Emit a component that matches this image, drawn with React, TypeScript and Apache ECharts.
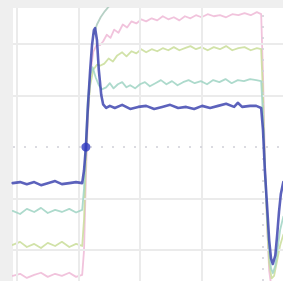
import React, { useEffect, useRef } from "react";
import * as echarts from "echarts";

// Oscilloscope capture, units = screen divisions (time, volts)
const gridX = [-4, -3, -2, -1];
const gridY = [-2, -1, 1, 2];
const centerX = [0];
const centerY = [0];

const blueTrace: [number, number][] = [
  [-4.07, -0.7], [-3.95, -0.68], [-3.84, -0.72], [-3.72, -0.68], [-3.61, -0.74], [-3.5, -0.7], [-3.38, -0.66],
  [-3.27, -0.72], [-3.15, -0.7], [-3.04, -0.68], [-2.94, -0.7],
  [-2.91, -0.45], [-2.88, 0.0], [-2.85, 0.72], [-2.81, 1.5], [-2.78, 1.98], [-2.75, 2.27], [-2.73, 2.31],
  [-2.7, 2.08], [-2.67, 1.5], [-2.63, 1.01], [-2.6, 0.83], [-2.55, 0.76], [-2.49, 0.8],
  [-2.41, 0.76], [-2.29, 0.82], [-2.16, 0.74], [-2.03, 0.78], [-1.9, 0.8], [-1.77, 0.74], [-1.64, 0.78],
  [-1.51, 0.82], [-1.38, 0.76], [-1.25, 0.78], [-1.12, 0.74], [-0.99, 0.8], [-0.86, 0.76], [-0.73, 0.8],
  [-0.6, 0.84], [-0.47, 0.78], [-0.41, 0.86], [-0.34, 0.78], [-0.21, 0.8], [-0.11, 0.8], [-0.03, 0.76],
  [0.0, 0.33], [0.03, -0.45], [0.07, -1.22], [0.1, -1.81], [0.13, -2.16], [0.16, -2.27], [0.2, -2.1],
  [0.23, -1.71], [0.26, -1.26], [0.29, -0.91], [0.33, -0.68],
];

const tealTrace: [number, number][] = [
  [-4.07, -1.24], [-3.95, -1.3], [-3.84, -1.2], [-3.72, -1.26], [-3.61, -1.18], [-3.5, -1.28], [-3.38, -1.22],
  [-3.27, -1.26], [-3.15, -1.2], [-3.04, -1.27], [-2.94, -1.22],
  [-2.91, -0.8], [-2.88, 0.1], [-2.85, 0.9], [-2.81, 1.4], [-2.77, 1.55], [-2.72, 1.35], [-2.67, 1.2], [-2.62, 1.12],
  [-2.55, 1.16], [-2.49, 1.24], [-2.43, 1.14], [-2.36, 1.22], [-2.29, 1.26], [-2.22, 1.16], [-2.16, 1.2],
  [-2.08, 1.14], [-2.0, 1.22], [-1.92, 1.26], [-1.84, 1.18], [-1.75, 1.24], [-1.66, 1.3], [-1.57, 1.22],
  [-1.48, 1.28], [-1.39, 1.2], [-1.3, 1.26], [-1.21, 1.3], [-1.11, 1.24], [-1.01, 1.28], [-0.91, 1.22],
  [-0.81, 1.3], [-0.71, 1.26], [-0.61, 1.32], [-0.51, 1.24], [-0.41, 1.3], [-0.31, 1.28], [-0.21, 1.32],
  [-0.11, 1.3], [-0.03, 1.28],
  [0.0, 0.6], [0.03, -0.4], [0.07, -1.4], [0.1, -2.0], [0.13, -2.35], [0.16, -2.45], [0.2, -2.3],
  [0.24, -1.95], [0.28, -1.6], [0.33, -1.35],
];

const greenTrace: [number, number][] = [
  [-4.07, -1.9], [-3.95, -1.84], [-3.84, -1.94], [-3.72, -1.88], [-3.61, -1.96], [-3.5, -1.86], [-3.38, -1.92],
  [-3.27, -1.84], [-3.15, -1.94], [-3.04, -1.88], [-2.94, -1.92],
  [-2.91, -1.4], [-2.88, -0.3], [-2.85, 0.6], [-2.81, 1.2], [-2.76, 1.5], [-2.7, 1.6], [-2.65, 1.58],
  [-2.58, 1.62], [-2.51, 1.72], [-2.44, 1.66], [-2.37, 1.78], [-2.29, 1.84], [-2.22, 1.76], [-2.14, 1.86],
  [-2.06, 1.82], [-1.98, 1.9], [-1.9, 1.84], [-1.81, 1.9], [-1.72, 1.86], [-1.63, 1.92], [-1.54, 1.88],
  [-1.45, 1.94], [-1.36, 1.88], [-1.27, 1.92], [-1.18, 1.96], [-1.09, 1.9], [-1.0, 1.94], [-0.9, 1.88],
  [-0.8, 1.94], [-0.7, 1.9], [-0.6, 1.96], [-0.5, 1.88], [-0.4, 1.92], [-0.3, 1.94], [-0.2, 1.88],
  [-0.1, 1.92], [-0.03, 1.9],
  [0.0, 1.0], [0.03, -0.4], [0.07, -1.6], [0.1, -2.25], [0.14, -2.55], [0.18, -2.5], [0.23, -2.2],
  [0.28, -1.9], [0.33, -1.7],
];

const pinkTrace: [number, number][] = [
  [-4.07, -2.5], [-3.95, -2.46], [-3.84, -2.54], [-3.72, -2.48], [-3.61, -2.44], [-3.5, -2.52], [-3.38, -2.46],
  [-3.27, -2.5], [-3.15, -2.44], [-3.04, -2.52], [-2.94, -2.48],
  [-2.91, -2.0], [-2.88, -0.6], [-2.85, 0.5], [-2.81, 1.4], [-2.76, 1.85], [-2.7, 2.0], [-2.65, 1.98],
  [-2.6, 2.05], [-2.54, 2.18], [-2.48, 2.12], [-2.42, 2.28], [-2.35, 2.22], [-2.28, 2.38], [-2.21, 2.32],
  [-2.14, 2.44], [-2.06, 2.4], [-1.98, 2.48], [-1.9, 2.44], [-1.81, 2.5], [-1.72, 2.46], [-1.63, 2.54],
  [-1.54, 2.48], [-1.45, 2.52], [-1.36, 2.46], [-1.27, 2.54], [-1.18, 2.5], [-1.09, 2.56], [-1.0, 2.52],
  [-0.9, 2.58], [-0.8, 2.54], [-0.7, 2.56], [-0.6, 2.52], [-0.5, 2.58], [-0.4, 2.56], [-0.3, 2.6],
  [-0.2, 2.56], [-0.1, 2.62], [-0.03, 2.58],
  [0.0, 1.4], [0.03, -0.2], [0.07, -1.6], [0.1, -2.4], [0.14, -2.75], [0.2, -2.8],
];

const overshootTrace: [number, number][] = [
  [-2.75, 2.2], [-2.7, 2.38], [-2.64, 2.52], [-2.57, 2.64], [-2.5, 2.74], [-2.44, 2.82],
];

const triggerPoint: [number, number][] = [[-2.88, 0.0]];

const X_MIN = -4.065;
const X_MAX = 0.325;
const Y_MIN = -2.6;
const Y_MAX = 2.7;

export default function App() {
  const ref = useRef<HTMLDivElement>(null);
  useEffect(() => {
    if (!ref.current) return;
    const chart = echarts.init(ref.current, undefined, { renderer: "svg" });
    const hidden = {
      axisLine: { show: false },
      axisTick: { show: false },
      axisLabel: { show: false },
      splitLine: { show: false },
    };
    const traceLine = (data: [number, number][], color: string, width: number, z: number) => ({
      type: "line",
      data,
      showSymbol: false,
      symbol: "none",
      smooth: false,
      z,
      lineStyle: { color, width, opacity: 0.85, join: "round", cap: "round" },
    });
    chart.setOption({
      animation: false,
      backgroundColor: "#efefef",
      grid: {
        left: 13,
        top: 8,
        right: 0,
        bottom: 0,
        show: true,
        backgroundColor: "#ffffff",
        borderWidth: 0,
      },
      xAxis: { type: "value", min: X_MIN, max: X_MAX, ...hidden },
      yAxis: { type: "value", min: Y_MIN, max: Y_MAX, ...hidden },
      series: [
        {
          type: "line",
          data: [],
          z: 1,
          markLine: {
            silent: true,
            symbol: "none",
            label: { show: false },
            lineStyle: { color: "#ebebeb", width: 2, type: "solid" },
            data: [
              ...gridX.map((v) => ({ xAxis: v })),
              ...gridY.map((v) => ({ yAxis: v })),
            ],
          },
        },
        {
          type: "line",
          data: [],
          z: 1,
          markLine: {
            silent: true,
            symbol: "none",
            label: { show: false },
            lineStyle: { color: "#cfcfd8", width: 1.5, type: [2, 9] },
            data: [
              ...centerX.map((v) => ({ xAxis: v })),
              ...centerY.map((v) => ({ yAxis: v })),
            ],
          },
        },
        traceLine(overshootTrace, "#a9c8bb", 1.8, 2),
        traceLine(pinkTrace, "#efb9d6", 1.8, 3),
        traceLine(greenTrace, "#c9dd99", 1.8, 4),
        traceLine(tealTrace, "#9fd3c3", 1.8, 5),
        traceLine(blueTrace, "#3f46b0", 2.6, 6),
        {
          type: "scatter",
          data: triggerPoint,
          symbolSize: 9,
          z: 7,
          itemStyle: { color: "#3039c0" },
        },
      ],
    });
    return () => chart.dispose();
  }, []);
  return (
    <div
      ref={ref}
      style={{ position: "fixed", left: 0, top: 0, width: 283, height: 281 }}
    />
  );
}
